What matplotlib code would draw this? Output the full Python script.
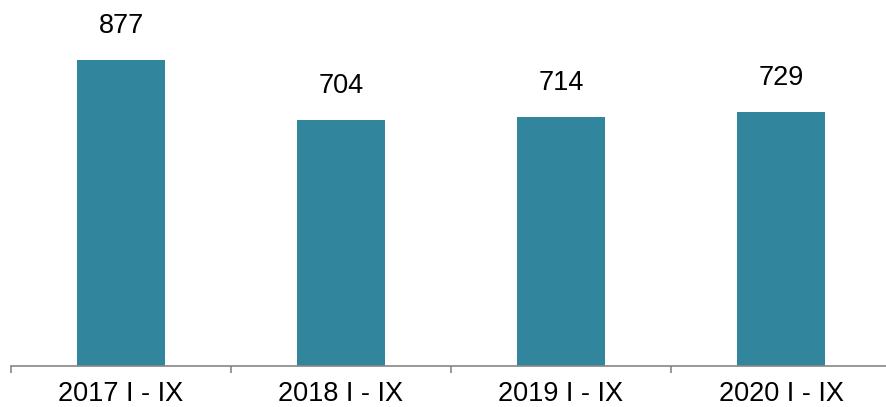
import matplotlib
matplotlib.use("Agg")
import matplotlib.pyplot as plt

categories = ["2017 I - IX", "2018 I - IX", "2019 I - IX", "2020 I - IX"]
values = [877, 704, 714, 729]

plt.rcParams['font.family'] = ['Liberation Sans', 'DejaVu Sans']

fig = plt.figure(figsize=(8.86, 4.07), dpi=100)
W, H = 886, 407
ax = fig.add_axes([11 / W, (H - 366) / H, 875 / W, 349 / H])

x = list(range(len(categories)))
bars = ax.bar(x, values, width=0.4, color="#31869D", zorder=2)
for xi, v in zip(x, values):
    ax.annotate(str(v), (xi, v), xytext=(0, 15), textcoords="offset points",
                ha="center", va="bottom", fontsize=19.5, color="black")

ax.set_xlim(-0.5, 3.5 - 5 / 220)
ax.set_ylim(0, 1000)
for s in ["top", "right", "left"]:
    ax.spines[s].set_visible(False)
ax.spines["bottom"].set_color("#868686")
ax.spines["bottom"].set_linewidth(1.2)
ax.set_yticks([])
ax.set_xticks(x)
ax.set_xticklabels(categories, fontsize=19.5)
ax.tick_params(axis="x", which="major", length=0, pad=11)
ax.set_xticks([-0.5, 0.5, 1.5, 2.5], minor=True)
ax.tick_params(axis="x", which="minor", length=5, width=1.2, color="#868686", direction="out")

fig.savefig("out.png", dpi=100)
